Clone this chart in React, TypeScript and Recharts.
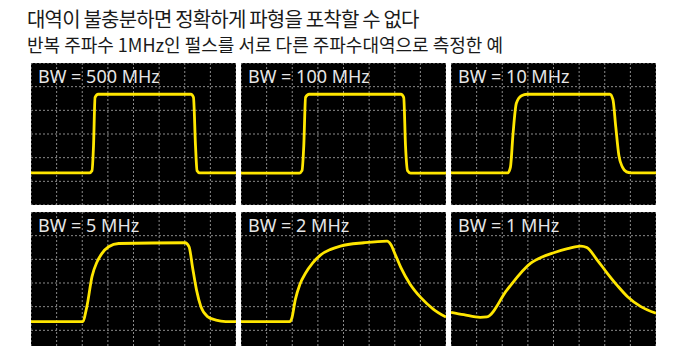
import React from 'react';
import { LineChart, Line, XAxis, YAxis, CartesianGrid } from 'recharts';

// time in divisions (0-8), level in divisions (0-6)
const bw500: [number, number][] = [
  [0, 1.36], [2.28, 1.36], [2.38, 1.45], [2.44, 2.5], [2.5, 4.55], [2.62, 4.68],
  [6.24, 4.68], [6.34, 4.55], [6.42, 2.5], [6.48, 1.45], [6.58, 1.36], [8, 1.36],
];
const bw100: [number, number][] = [
  [0, 1.35], [2.28, 1.35], [2.38, 1.45], [2.45, 2.5], [2.52, 4.55], [2.66, 4.68],
  [6.24, 4.68], [6.35, 4.55], [6.42, 2.5], [6.5, 1.45], [6.62, 1.35], [8, 1.35],
];
const bw10: [number, number][] = [
  [0, 1.36], [2.22, 1.36], [2.32, 1.6], [2.42, 3.0], [2.55, 4.3], [2.75, 4.62], [2.97, 4.68],
  [6.2, 4.68], [6.32, 4.45], [6.43, 3.3], [6.55, 2.1], [6.69, 1.6], [6.85, 1.4], [7.02, 1.36], [8, 1.36],
];
const bw5: [number, number][] = [
  [0, 1.37], [2.01, 1.37], [2.18, 2.0], [2.38, 3.27], [2.58, 3.9], [2.77, 4.25], [3.03, 4.53],
  [3.42, 4.67], [6.01, 4.7], [6.17, 4.53], [6.3, 3.69], [6.46, 2.7], [6.63, 2.0], [6.89, 1.58],
  [7.22, 1.43], [7.6, 1.37], [8, 1.37],
];
const bw2: [number, number][] = [
  [0, 1.37], [1.9, 1.37], [1.98, 1.5], [2.12, 2.3], [2.3, 2.95], [2.51, 3.4], [2.8, 3.85],
  [3.1, 4.18], [3.5, 4.42], [3.88, 4.56], [4.8, 4.7], [5.7, 4.77], [5.84, 4.64], [6.02, 4.2],
  [6.24, 3.65], [6.6, 2.95], [7.02, 2.38], [7.5, 1.9], [8, 1.56],
];
const bw1: [number, number][] = [
  [0, 1.76], [0.5, 1.66], [1.14, 1.55], [1.4, 1.57], [2.18, 2.7], [3.1, 3.83], [3.55, 4.1],
  [4.01, 4.28], [4.55, 4.45], [5.06, 4.56], [5.3, 4.5], [5.7, 3.98], [6.1, 3.41], [6.5, 2.88],
  [6.89, 2.42], [7.41, 2.0], [8, 1.72],
];

const bwLabels = ['BW = 500 MHz', 'BW = 100 MHz', 'BW = 10 MHz', 'BW = 5 MHz', 'BW = 2 MHz', 'BW = 1 MHz'];
const traces = [bw500, bw100, bw10, bw5, bw2, bw1];

const xTicks = [1, 2, 3, 4, 5, 6, 7];
const yTicks = [1, 2, 3, 4, 5];

const title = '대역이 불충분하면 정확하게 파형을 포착할 수 없다';
const subtitle = '반복 주파수 1MHz인 펄스를 서로 다른 주파수대역으로 측정한 예';

const colX = [31, 241, 451];
const rowY = [63, 212];
const PW = 205;
const PH = 142;

const Scope: React.FC<{ data: [number, number][]; label: string }> = ({ data, label }) => {
  const rows = data.map(([t, v]) => ({ t, v }));
  return (
    <div style={{ position: 'relative', width: PW, height: PH, background: '#000' }}>
      <LineChart width={PW} height={PH} data={rows} margin={{ top: 0, right: 0, bottom: 0, left: 0 }}>
        <CartesianGrid stroke="#8a8a8a" strokeDasharray="2 2" strokeWidth={1} />
        <XAxis dataKey="t" type="number" domain={[0, 8]} ticks={xTicks} hide />
        <YAxis type="number" domain={[0, 6]} ticks={yTicks} hide />
        <Line
          type="monotone"
          dataKey="v"
          stroke="#ffe600"
          strokeWidth={2.8}
          dot={false}
          isAnimationActive={false}
        />
      </LineChart>
      <div
        style={{
          position: 'absolute',
          left: 7,
          top: 1,
          fontFamily: '"Noto Sans", sans-serif',
          fontSize: 18,
          lineHeight: '24px',
          color: '#e6e6e6',
          pointerEvents: 'none',
        }}
      >
        {label}
      </div>
    </div>
  );
};

export default function App() {
  return (
    <div
      style={{
        position: 'absolute',
        left: 0,
        top: 0,
        width: 677,
        height: 346,
        overflow: 'hidden',
        background: '#fff',
        fontFamily: '"Noto Sans CJK KR", sans-serif',
      }}
    >
      <div
        style={{
          position: 'absolute', left: 27, top: 6, fontSize: 20, lineHeight: '26px',
          letterSpacing: -0.8, color: '#1a1a1a', whiteSpace: 'nowrap',
        }}
      >
        {title}
      </div>
      <div
        style={{
          position: 'absolute', left: 27, top: 33, fontSize: 18, lineHeight: '22px',
          color: '#1a1a1a', whiteSpace: 'nowrap',
        }}
      >
        {subtitle}
      </div>
      {traces.map((d, i) => (
        <div
          key={bwLabels[i]}
          style={{ position: 'absolute', left: colX[i % 3], top: rowY[Math.floor(i / 3)] }}
        >
          <Scope data={d} label={bwLabels[i]} />
        </div>
      ))}
    </div>
  );
}
